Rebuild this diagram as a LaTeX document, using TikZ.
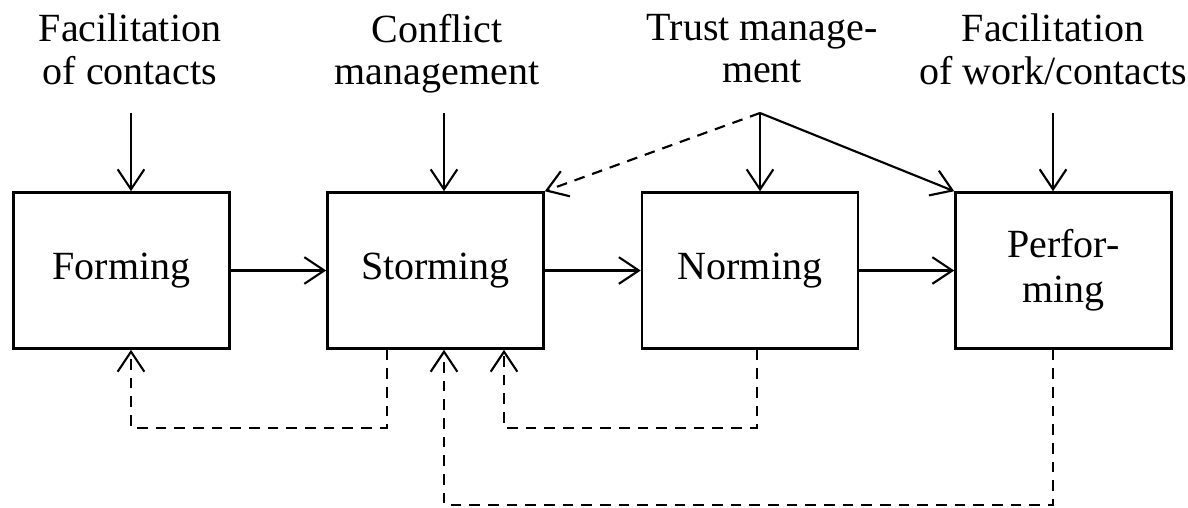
\documentclass[tikz,border=0pt]{standalone}
\usepackage{fontspec}
\setmainfont{Liberation Serif}
\usetikzlibrary{arrows.meta,calc}

\tikzset{every picture/.style={line width=1.6pt}}

\begin{document}
\begin{tikzpicture}[x=0.75pt,y=0.75pt,yscale=-1,xscale=1,
  stage/.style={draw,line width=1.9pt,minimum width=162pt,minimum height=117pt,inner sep=0.75pt,align=center,font=\fontsize{30}{34}\selectfont},
  lbl/.style={anchor=north,inner sep=0.75pt,align=center,font=\fontsize{30}{32}\selectfont},
  barb/.style={-{Straight Barb[length=15pt,width=20pt,line width=1.6pt]}},
  fb/.style={barb,line width=1.8pt,dash pattern=on 8pt off 6pt}]
\path [use as bounding box] (0,0) rectangle (1188,507); %diagram is 1188 x 507

%Shape: Rectangle -- the four stages
\node [stage] (forming) at (121.5,270.5) {Forming};
\node [stage] (storming) at (435.5,270.5) {Storming};
\node [stage] (norming) at (750,270.5) {Norming};
\node [stage] (performing) at (1063.5,270.5) {Perfor-\\ming};

% Text Node
\node [lbl] (facilcontacts) at (130,12) {Facilitation\\of contacts};
% Text Node
\node [lbl] (conflict) at (437,12) {Conflict\\management};
% Text Node
\node [lbl] (trust) at (762,12) {Trust manage-\\ment};
% Text Node
\node [lbl] (facilwork) at (1053,12) {Facilitation\\of work/contacts};

%Straight Lines -- inputs from above
\coordinate (infacil) at (131,113);
\coordinate (inconflict) at (444,113);
\coordinate (trustapex) at (760,113);
\coordinate (inwork) at (1053,113);
\draw [barb] (infacil) -- (infacil |- forming.north);
\draw [barb] (inconflict) -- (inconflict |- storming.north);
\draw [barb] (trustapex) -- (trustapex |- norming.north);
\draw [barb] (trustapex) -- (performing.north west);
\draw [barb,dash pattern=on 8pt off 6pt] (trustapex) -- (storming.north east);
\draw [barb] (inwork) -- (inwork |- performing.north);

%Straight Lines -- stage to stage
\draw [barb] (forming.east) -- (storming.west);
\draw [barb] (storming.east) -- (norming.west);
\draw [barb] (norming.east) -- (performing.west);

%Straight Lines -- dashed feedback
\draw [fb] ($(storming.south)+(-48.5,0)$) -- ++(0,78) -| ($(forming.south)+(9.5,0)$);
\draw [fb] ($(norming.south)+(7,0)$) -- ++(0,78) -| ($(storming.south)+(68.5,0)$);
\draw [fb] ($(performing.south)+(-10.5,0)$) -- ++(0,155) -| ($(storming.south)+(8.5,0)$);

\end{tikzpicture}
\end{document}
